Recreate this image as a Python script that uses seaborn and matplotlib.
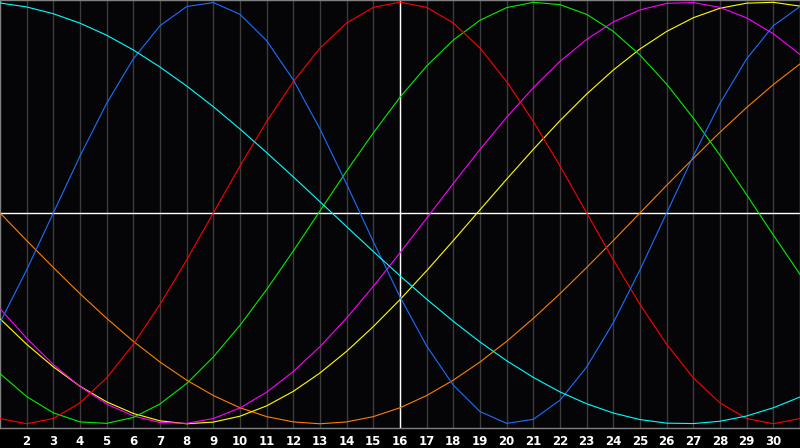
import pandas as pd
import matplotlib
matplotlib.use("Agg")
import matplotlib.pyplot as plt
import seaborn as sns

# dias do mes
dias = list(range(1, 32))

# valores (escala -1 .. 1)
ciano = [0.996, 0.977, 0.945, 0.900, 0.843, 0.773, 0.692, 0.602, 0.504, 0.398,
         0.286, 0.171, 0.053, -0.065, -0.183, -0.298, -0.409, -0.514, -0.612, -0.701,
         -0.780, -0.849, -0.905, -0.949, -0.980, -0.997, -0.999, -0.988, -0.963, -0.924,
         -0.873]
azul = [-0.520, -0.270, 0.0, 0.270, 0.520, 0.731, 0.888, 0.979, 0.998, 0.942,
        0.817, 0.631, 0.398, 0.136, -0.136, -0.398, -0.631, -0.817, -0.942, -0.998,
        -0.979, -0.888, -0.731, -0.520, -0.270, 0.0, 0.270, 0.520, 0.731, 0.888,
        0.979]
vermelho = [-0.975, -1.0, -0.975, -0.901, -0.782, -0.623, -0.434, -0.223, 0.0, 0.223,
            0.434, 0.623, 0.782, 0.901, 0.975, 1.0, 0.975, 0.901, 0.782, 0.623,
            0.434, 0.223, 0.0, -0.223, -0.434, -0.623, -0.782, -0.901, -0.975, -1.0,
            -0.975]
verde = [-0.762, -0.871, -0.948, -0.991, -0.998, -0.970, -0.906, -0.809, -0.683, -0.533,
         -0.363, -0.180, 0.010, 0.199, 0.380, 0.549, 0.697, 0.820, 0.914, 0.974,
         0.999, 0.988, 0.942, 0.861, 0.749, 0.611, 0.450, 0.273, 0.086, -0.105,
         -0.291]
magenta = [-0.454, -0.594, -0.719, -0.823, -0.906, -0.963, -0.994, -0.998, -0.975, -0.925,
           -0.850, -0.752, -0.634, -0.498, -0.348, -0.189, -0.025, 0.140, 0.301, 0.454,
           0.594, 0.719, 0.823, 0.906, 0.963, 0.994, 0.998, 0.975, 0.925, 0.850,
           0.752]
amarelo = [-0.502, -0.623, -0.730, -0.822, -0.896, -0.951, -0.986, -1.0, -0.992, -0.964,
           -0.915, -0.846, -0.759, -0.656, -0.539, -0.411, -0.274, -0.131, 0.015, 0.160,
           0.302, 0.438, 0.564, 0.678, 0.778, 0.861, 0.926, 0.971, 0.995, 0.999,
           0.981]
laranja = [0.0, -0.131, -0.259, -0.383, -0.500, -0.609, -0.707, -0.793, -0.866, -0.924,
           -0.966, -0.991, -1.0, -0.991, -0.966, -0.924, -0.866, -0.793, -0.707, -0.609,
           -0.500, -0.383, -0.259, -0.131, 0.0, 0.131, 0.259, 0.383, 0.500, 0.609,
           0.707]

series = {
    "laranja": laranja,
    "amarelo": amarelo,
    "magenta": magenta,
    "verde": verde,
    "vermelho": vermelho,
    "azul": azul,
    "ciano": ciano,
}
cores = {
    "laranja": "#ff7f00",
    "amarelo": "#ffff00",
    "magenta": "#ff00ff",
    "verde": "#00ee00",
    "vermelho": "#ff0000",
    "azul": "#1e6eff",
    "ciano": "#00ffff",
}

# tabela em formato longo para o seaborn
df = pd.DataFrame([
    {"dia": d, "valor": v, "serie": nome}
    for nome, valores in series.items()
    for d, v in zip(dias, valores)
])

sns.set_theme(style="dark")
fig = plt.figure(figsize=(8, 4.48), dpi=100, facecolor="black")
ax = fig.add_axes([0, 20 / 448, 1, 428 / 448])
ax.set_facecolor("#050508")

# grelha vertical e linhas de referencia
ax.set_xticks(list(range(2, 31)))
ax.grid(axis="x", color="#3c3c3c", linewidth=1)
ax.grid(axis="y", visible=False)
ax.axvline(16, color="white", linewidth=1, zorder=1)
ax.axhline(0, color="white", linewidth=1, zorder=1)

sns.lineplot(data=df, x="dia", y="valor", hue="serie", palette=cores,
             linewidth=0.8, legend=False, ax=ax, zorder=3)

ax.set_xlim(1, 31)
ax.set_ylim(-1.02, 1.01)
ax.set_yticks([])
ax.set_xlabel("")
ax.set_ylabel("")
ax.tick_params(axis="x", length=0, pad=5, colors="white")
for lbl in ax.get_xticklabels():
    lbl.set_fontweight("bold")
    lbl.set_fontsize(8.5)
    lbl.set_color("white")

for s in ax.spines.values():
    s.set_visible(True)
    s.set_color("#808080")
    s.set_linewidth(1)

fig.savefig("out.png", dpi=100, facecolor="black")
plt.close()
